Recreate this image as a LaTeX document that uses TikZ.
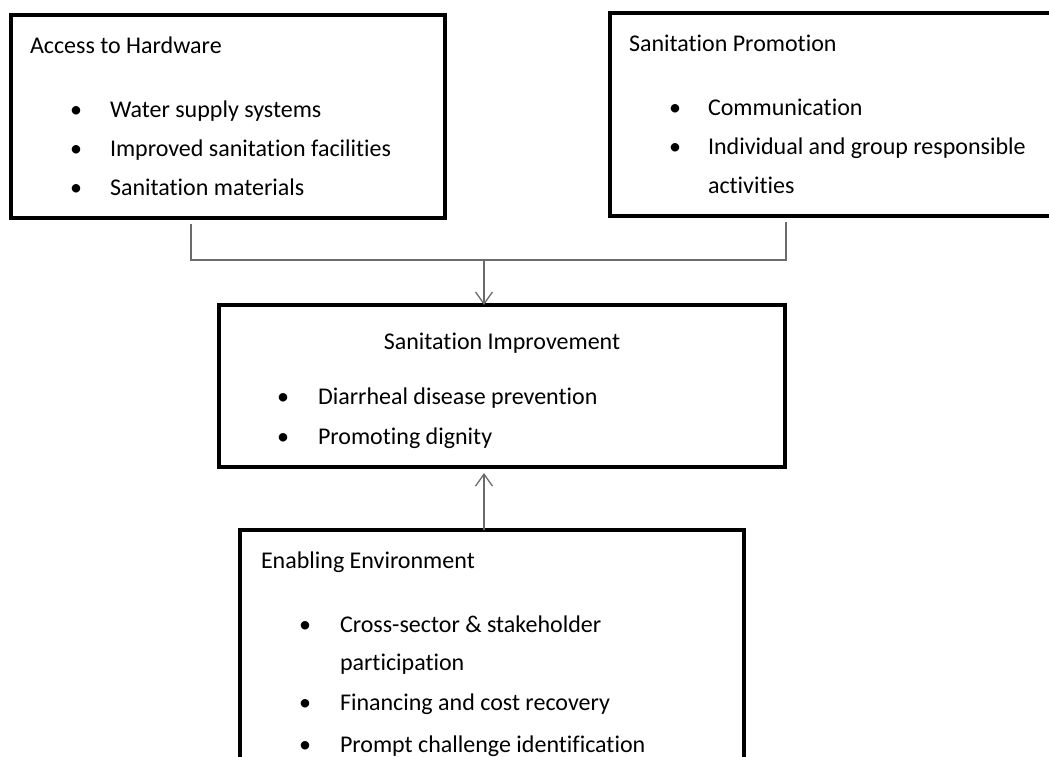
\documentclass[tikz,border=0pt]{standalone}
\usepackage{fontspec}
\setmainfont{Carlito}[Ligatures={NoCommon}]
\usetikzlibrary{arrows.meta}
\begin{document}
\begin{tikzpicture}[x=1pt,y=-1pt,
  box/.style={draw=black, line width=3.5pt, inner sep=0pt, outer sep=0pt},
  txt/.style={inner sep=0pt, outer sep=0pt, anchor=base west, font=\fontsize{24}{29}\selectfont, text=black},
  bul/.style={inner sep=0pt, outer sep=0pt, anchor=base, font=\fontsize{24}{29}\selectfont, text=black},
  conn/.style={draw=black!58, line width=1.3pt},
  arr/.style={conn, -{Straight Barb[length=12pt,width=17pt,line width=1.3pt]}}]
\useasboundingbox (0,0) rectangle (1049,756);
\clip (0,0) rectangle (1049,756);

% boxes
\node[box, minimum width=434pt, minimum height=203pt] (b1) at (228,116.5) {};
\node[box, minimum width=455pt, minimum height=203pt] (b2) at (837.5,114.5) {};
\node[box, minimum width=566pt, minimum height=162pt] (b3) at (502,386) {};
\node[box, minimum width=504pt, minimum height=230pt] (b4) at (492,645) {};

% box 1 text
\node[txt] (h1) at (30,53) {Access to Hardware};
\node[bul] (u11) at (76,117) {•};
\node[txt] (t11) at (110,117) {Water supply systems};
\node[bul] (u12) at (76,156) {•};
\node[txt] (t12) at (110,156) {Improved sanitation facilities};
\node[bul] (u13) at (76,195) {•};
\node[txt] (t13) at (110,195) {Sanitation materials};

% box 2 text
\node[txt] (h2) at (629,51) {Sanitation Promotion};
\node[bul] (u21) at (675,115) {•};
\node[txt] (t21) at (708,115) {Communication};
\node[bul] (u22) at (675,154) {•};
\node[txt] (t22) at (708,154) {Individual and group responsible};
\node[txt] (t23) at (708,193) {activities};

% box 3 text
\node[txt, anchor=base] (h3) at (502,349) {Sanitation Improvement};
\node[bul] (u31) at (283,404) {•};
\node[txt] (t31) at (318,404) {Diarrheal disease prevention};
\node[bul] (u32) at (283,444) {•};
\node[txt] (t32) at (318,444) {Promoting dignity};

% box 4 text
\node[txt] (h4) at (261,568) {Enabling Environment};
\node[bul] (u41) at (305,632) {•};
\node[txt] (t41) at (340,632) {Cross-sector \& stakeholder};
\node[txt] (t42) at (340,670) {participation};
\node[bul] (u43) at (305,710) {•};
\node[txt] (t43) at (340,710) {Financing and cost recovery};
\node[bul] (u44) at (305,752) {•};
\node[txt] (t44) at (340,752) {Prompt challenge identification};

% connectors
\coordinate (j1) at (191,224);
\coordinate (j2) at (786,222);
\coordinate (jm) at (484,260);
\draw[conn] (j1) |- (jm) -| (j2);
\draw[arr] (jm) -- (jm |- b3.north);
\draw[arr, shorten >=6pt] (b4.north -| jm) -- (b3.south -| jm);
\end{tikzpicture}
\end{document}
